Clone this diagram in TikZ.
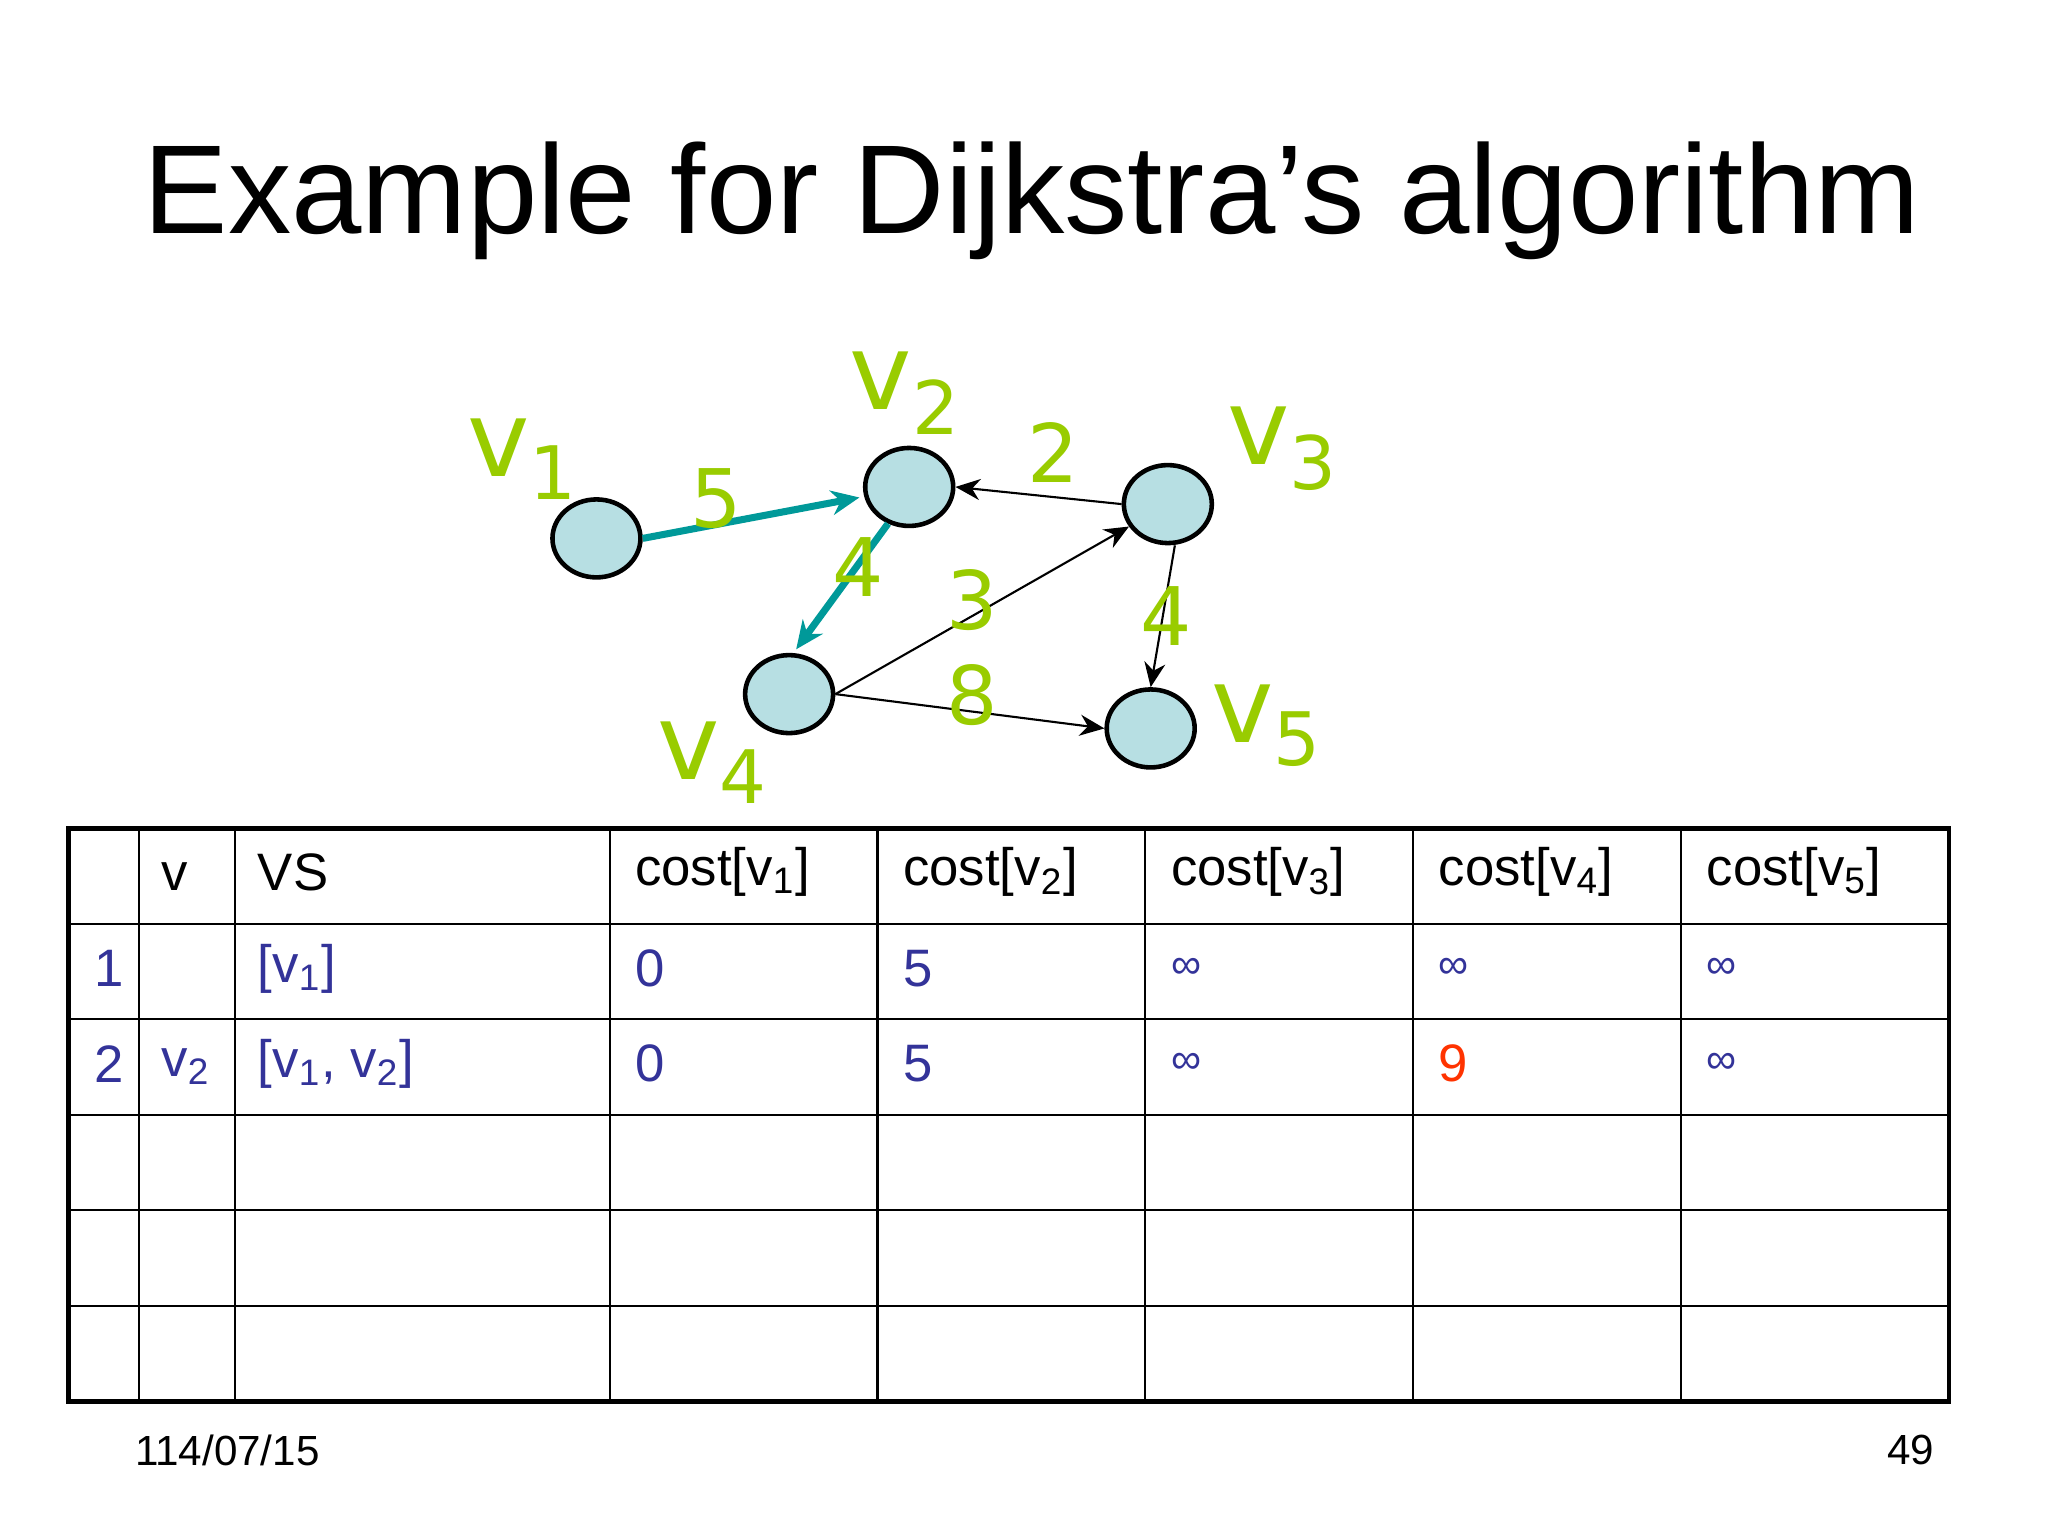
\documentclass[tikz,border=0pt]{standalone}
\usepackage{fontspec}
\setmainfont{Liberation Sans}
\newfontfamily\lab{DejaVu Sans}
\usetikzlibrary{arrows.meta,shapes.geometric}
\definecolor{nodefill}{HTML}{B7DFE3}
\definecolor{lgreen}{HTML}{99CC00}
\definecolor{teal2}{HTML}{009999}
\definecolor{tblue}{HTML}{333399}
\definecolor{tred}{HTML}{FF3300}
\begin{document}
\begin{tikzpicture}[x=0.013196cm,y=-0.013196cm,
  vert/.style={ellipse,draw,line width=1.3pt,fill=nodefill,inner sep=0pt,minimum width=0.88cm,minimum height=0.78cm},
  vlab/.style={text=lgreen,font=\lab\fontsize{30}{32}\selectfont},
  wlab/.style={text=lgreen,font=\lab\fontsize{23}{25}\selectfont},
  hot/.style={-{Stealth[length=8pt,width=7pt]},teal2,line width=2pt},
  thin/.style={-{Stealth[length=7pt,width=6pt]},black,line width=0.6pt},
  cell/.style={anchor=west,font=\fontsize{15}{18}\selectfont},
  bl/.style={cell,text=tblue}]
\useasboundingbox (0,0) rectangle (1552,1164);
\fill[white] (0,0) rectangle (1552,1164);
\node[font=\fontsize{36}{40}\selectfont] (title) at (782,152) {Example for Dijkstra’s algorithm};
% graph
\node[vert] (v1) at (452,408) {};
\node[vert] (v2) at (689,369) {};
\node[vert] (v3) at (885,382) {};
\node[vert] (v4) at (598,526) {};
\node[vert] (v5) at (872,552) {};
\node[vlab] (l1) at (396,348) {v\textsubscript{1}};
\node[vlab] (l2) at (686,298) {v\textsubscript{2}};
\node[vlab] (l3) at (972,340) {v\textsubscript{3}};
\node[vlab] (l4) at (540,578) {v\textsubscript{4}};
\node[vlab] (l5) at (960,550) {v\textsubscript{5}};
\draw[hot] (v1.east) -- ([xshift=-1pt,yshift=-3pt]v2.west);
\draw[hot] (v2.-120) -- ([xshift=2pt,yshift=1pt]v4.north);
\draw[thin] (v3.west) -- (v2.east);
\draw[thin] (v4.east) -- (v3.-150);
\draw[thin] ([xshift=2pt]v3.south) -- (v5.north);
\draw[thin] (v4.east) -- (v5.west);
\node[wlab] (w5) at (543,378) {5};
\node[wlab] (w4a) at (650,430) {4};
\node[wlab] (w2) at (798,343) {2};
\node[wlab] (w3) at (737,455) {3};
\node[wlab] (w4b) at (884,467) {4};
\node[wlab] (w8) at (737,527) {8};
% table
\foreach \x in {105,178,462,665,868,1071,1274} \draw[line width=0.6pt] (\x,628) -- (\x,1062);
\foreach \y in {700,772,845,917,990} \draw[line width=0.6pt] (52,\y) -- (1477,\y);
\draw[line width=1.3pt] (52,628) rectangle (1477,1062);
\node[cell] (h1) at (113,664) {v};
\node[cell] (h2) at (186,661) {VS};
\node[cell] (h3) at (472,661) {cost[v\textsubscript{1}]};
\node[cell] (h4) at (675,661) {cost[v\textsubscript{2}]};
\node[cell] (h5) at (878,661) {cost[v\textsubscript{3}]};
\node[cell] (h6) at (1081,661) {cost[v\textsubscript{4}]};
\node[cell] (h7) at (1284,661) {cost[v\textsubscript{5}]};
\node[bl] (a0) at (62,734) {1};
\node[bl] (a2) at (186,734) {[v\textsubscript{1}]};
\node[bl] (a3) at (472,734) {0};
\node[bl] (a4) at (675,734) {5};
\node[bl,font=\fontsize{12}{14}\selectfont] (a5) at (878,734) {∞};
\node[bl,font=\fontsize{12}{14}\selectfont] (a6) at (1081,734) {∞};
\node[bl,font=\fontsize{12}{14}\selectfont] (a7) at (1284,734) {∞};
\node[bl] (b0) at (62,806) {2};
\node[bl] (b1) at (113,808) {v\textsubscript{2}};
\node[bl] (b2) at (186,806) {[v\textsubscript{1}, v\textsubscript{2}]};
\node[bl] (b3) at (472,806) {0};
\node[bl] (b4) at (675,806) {5};
\node[bl,font=\fontsize{12}{14}\selectfont] (b5) at (878,806) {∞};
\node[cell,text=tred] (b6) at (1081,806) {9};
\node[bl,font=\fontsize{12}{14}\selectfont] (b7) at (1284,806) {∞};
% footer
\node[anchor=west,font=\fontsize{12}{14}\selectfont] (date) at (93,1099) {114/07/15};
\node[anchor=east,font=\fontsize{12}{14}\selectfont] (pg) at (1475,1099) {49};
\end{tikzpicture}
\end{document}
